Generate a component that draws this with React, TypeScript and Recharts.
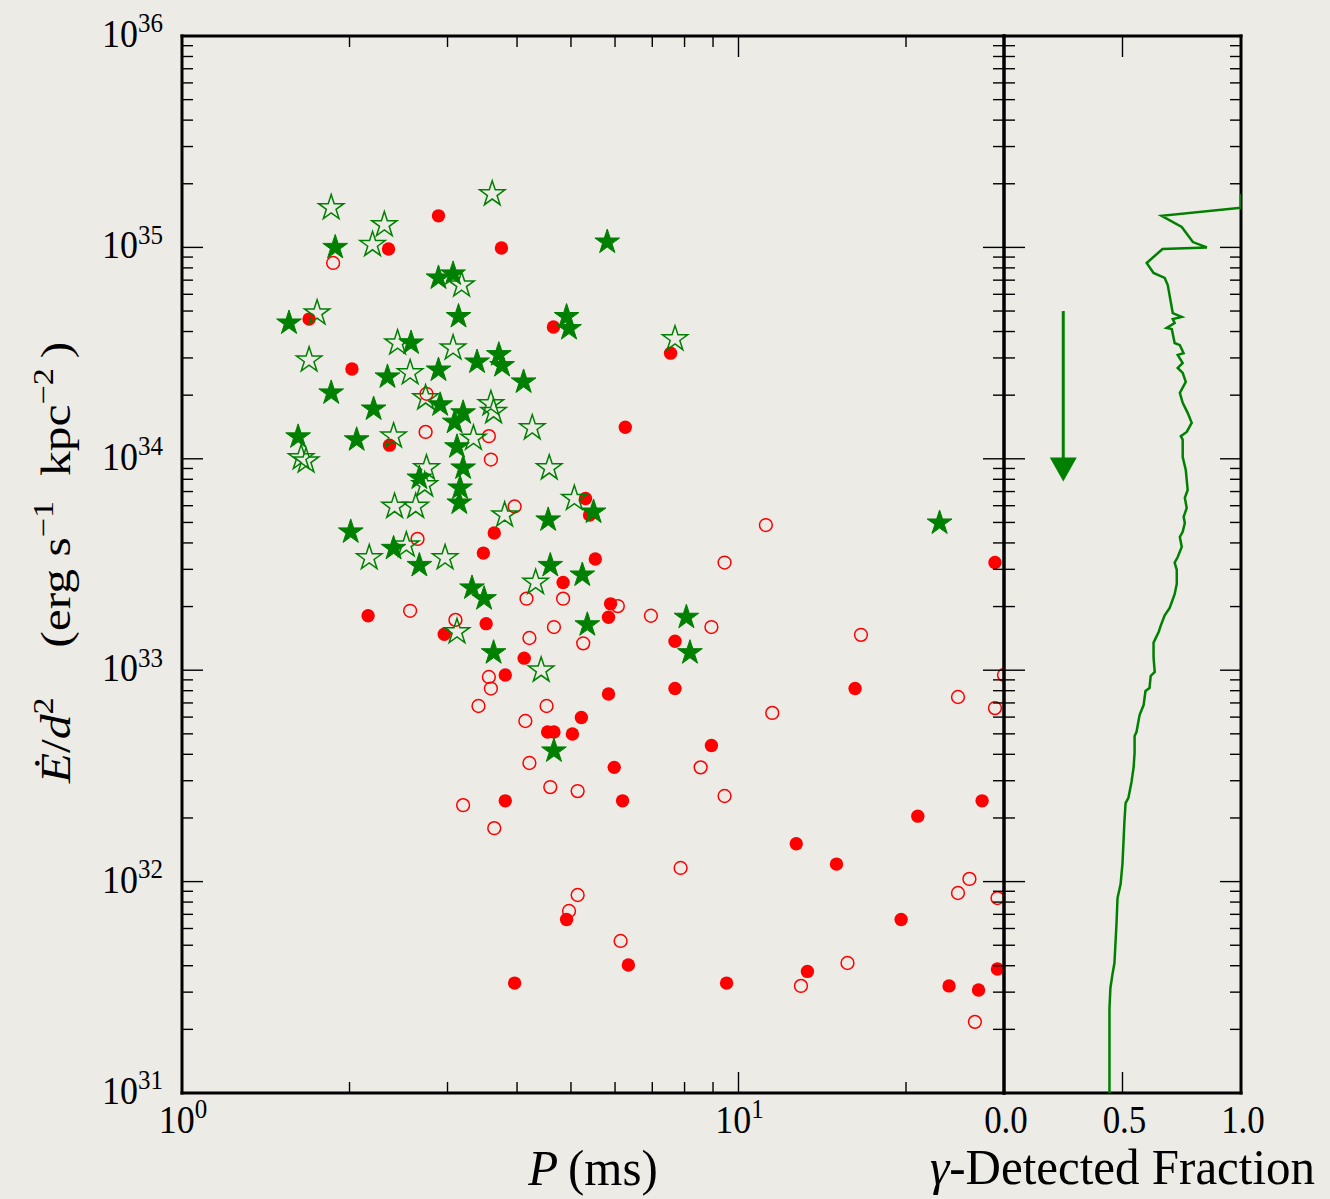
import React from 'react';
import { ScatterChart, Scatter, XAxis, YAxis } from 'recharts';

const GREEN = '#008000';
const RED = '#ff0000';
const INK = '#000000';
const PAPER = '#ecebe6';
const FONT = "'Liberation Serif', 'Times New Roman', serif";

// [P (ms), Edot/d^2 (erg s^-1 kpc^-2)]
const greenFilled: [number, number][] = [
  [1.885, 1.0e35], [5.81, 1.06e35], [2.89, 7.17e34], [3.07, 7.49e34], [3.14, 4.71e34],
  [1.557, 4.39e34], [4.91, 4.71e34], [4.96, 4.13e34], [2.58, 3.53e34], [3.39, 2.87e34],
  [3.71, 3.11e34], [3.76, 2.76e34], [2.89, 2.63e34], [2.34, 2.44e34], [4.11, 2.31e34],
  [1.854, 2.05e34], [2.21, 1.72e34], [2.91, 1.8e34], [3.2, 1.65e34], [3.09, 1.49e34],
  [1.617, 1.27e34], [2.06, 1.23e34], [3.12, 1.14e34], [3.2, 9.05e33], [2.67, 8.11e33],
  [3.16, 7.28e33], [3.15, 6.18e33], [5.49, 5.6e33], [4.55, 5.14e33], [2.01, 4.51e33],
  [2.4, 3.77e33], [2.67, 3.13e33], [4.59, 3.13e33], [5.24, 2.82e33], [3.32, 2.45e33],
  [3.49, 2.18e33], [5.35, 1.64e33], [8.06, 1.78e33], [8.18, 1.21e33], [3.63, 1.21e33],
  [4.66, 4.15e32], [22.98, 4.97e33],
];

const greenOpen: [number, number][] = [
  [3.61, 1.79e35], [1.854, 1.54e35], [2.31, 1.28e35], [2.2, 1.03e35], [3.18, 6.64e34],
  [1.749, 4.89e34], [7.69, 3.69e34], [2.44, 3.53e34], [3.07, 3.34e34], [1.692, 2.93e34],
  [2.57, 2.55e34], [2.74, 1.94e34], [3.59, 1.82e34], [3.63, 1.67e34], [4.26, 1.4e34],
  [2.4, 1.28e34], [3.34, 1.25e34], [1.637, 1.01e34], [1.671, 9.76e33], [4.57, 9.05e33],
  [2.75, 9.05e33], [2.73, 7.52e33], [2.41, 5.95e33], [2.63, 5.95e33], [5.07, 6.49e33],
  [3.8, 5.42e33], [2.53, 3.91e33], [2.17, 3.4e33], [2.97, 3.4e33], [4.32, 2.6e33],
  [3.12, 1.52e33], [4.42, 1.0e33],
];

const redFilled: [number, number][] = [
  [2.89, 1.41e35], [2.35, 9.83e34], [3.75, 9.94e34], [1.692, 4.58e34], [4.65, 4.2e34],
  [7.55, 3.16e34], [2.02, 2.66e34], [6.26, 1.41e34], [2.36, 1.16e34], [5.31, 6.49e33],
  [5.4, 5.42e33], [3.64, 4.46e33], [3.48, 3.58e33], [5.53, 3.36e33], [4.84, 2.6e33],
  [2.16, 1.81e33], [5.89, 2.06e33], [5.84, 1.78e33], [3.52, 1.66e33], [2.96, 1.48e33],
  [7.69, 1.37e33], [4.12, 1.14e33], [3.81, 9.49e32], [7.69, 8.19e32], [5.84, 7.72e32],
  [16.2, 8.19e32], [28.9, 3.23e33], [5.22, 5.97e32], [4.54, 5.1e32], [4.66, 5.1e32],
  [5.03, 4.99e32], [8.94, 4.4e32], [5.98, 3.47e32], [3.81, 2.41e32], [6.19, 2.41e32],
  [27.4, 2.41e32], [21.0, 2.04e32], [12.7, 1.51e32], [15.0, 1.21e32], [19.6, 6.62e31],
  [4.91, 6.62e31], [6.34, 4.03e31], [13.3, 3.76e31], [3.96, 3.31e31], [9.52, 3.31e31],
  [23.9, 3.21e31], [27.0, 3.07e31], [29.2, 3.86e31],
];

const redOpen: [number, number][] = [
  [1.869, 8.44e34], [2.75, 2.03e34], [2.74, 1.34e34], [3.56, 1.28e34], [3.59, 9.92e33],
  [3.96, 5.95e33], [2.65, 4.18e33], [2.57, 1.91e33], [3.1, 1.73e33], [4.16, 2.18e33],
  [4.84, 2.18e33], [6.07, 2.01e33], [6.96, 1.81e33], [8.94, 1.6e33], [5.26, 1.34e33],
  [4.66, 1.6e33], [4.21, 1.42e33], [11.2, 4.86e33], [9.44, 3.23e33], [16.6, 1.47e33],
  [30.0, 9.49e32], [24.8, 7.47e32], [28.9, 6.62e32], [11.5, 6.28e32], [3.56, 9.29e32],
  [3.59, 8.19e32], [3.41, 6.77e32], [4.52, 6.77e32], [4.14, 5.75e32], [4.21, 3.64e32],
  [8.55, 3.47e32], [4.59, 2.8e32], [5.14, 2.68e32], [9.44, 2.54e32], [3.2, 2.3e32],
  [3.64, 1.79e32], [7.87, 1.16e32], [26.0, 1.03e32], [24.8, 8.83e31], [29.2, 8.36e31],
  [5.14, 8.64e31], [4.96, 7.26e31], [6.14, 5.24e31], [15.7, 4.12e31], [12.95, 3.21e31],
  [26.6, 2.17e31],
];

// [gamma-detected fraction, Edot/d^2]
const fractionCurve: [number, number][] = [
  [1.0, 1.79e35], [1.0, 1.54e35], [0.665, 1.41e35], [0.75, 1.25e35], [0.797, 1.06e35],
  [0.856, 1.0e35], [0.669, 9.83e34], [0.602, 8.44e34], [0.631, 7.57e34], [0.678, 7.17e34],
  [0.691, 6.64e34], [0.712, 4.89e34], [0.75, 4.69e34], [0.712, 4.58e34], [0.72, 4.39e34],
  [0.686, 4.16e34], [0.708, 4.11e34], [0.72, 3.53e34], [0.742, 3.45e34], [0.758, 3.16e34],
  [0.733, 3.1e34], [0.754, 2.84e34], [0.733, 2.69e34], [0.754, 2.55e34], [0.767, 2.31e34],
  [0.742, 2.05e34], [0.754, 1.84e34], [0.775, 1.65e34], [0.792, 1.48e34], [0.771, 1.34e34],
  [0.746, 1.28e34], [0.754, 1.23e34], [0.754, 1.02e34], [0.767, 8.85e33], [0.775, 7.12e33],
  [0.763, 6.53e33], [0.771, 5.85e33], [0.758, 5.31e33], [0.763, 4.97e33], [0.754, 4.51e33],
  [0.742, 4.27e33], [0.75, 3.83e33], [0.733, 3.43e33], [0.72, 3.23e33], [0.729, 2.98e33],
  [0.729, 2.56e33], [0.72, 2.29e33], [0.699, 1.97e33], [0.678, 1.82e33], [0.661, 1.62e33],
  [0.653, 1.52e33], [0.631, 1.35e33], [0.631, 1.15e33], [0.636, 9.81e32], [0.619, 9.39e32],
  [0.614, 8.24e32], [0.597, 7.97e32], [0.589, 6.84e32], [0.572, 6.14e32], [0.559, 5.1e32],
  [0.551, 4.88e32], [0.551, 4.06e32], [0.547, 3.48e32], [0.538, 2.96e32], [0.525, 2.49e32],
  [0.513, 2.35e32], [0.508, 1.91e32], [0.5, 1.22e32], [0.492, 9.74e31], [0.479, 8.36e31],
  [0.475, 6.44e31], [0.466, 4.12e31], [0.458, 3.66e31], [0.449, 3.14e31], [0.445, 2.52e31],
  [0.445, 1.0e31],
];

const arrowShaft: [number, number][] = [[0.25, 5.0e34], [0.25, 1.0e34]];
const arrowTip: [number, number][] = [[0.25, 7.8e33]];

// ticks
const periodTicks = [1, 2, 3, 4, 5, 6, 7, 8, 9, 10, 20, 30];
const periodMajor = [1, 10];
const edotMajor = [1e31, 1e32, 1e33, 1e34, 1e35, 1e36];
const edotMinorMantissa = [2, 3, 4, 5, 6, 7, 8, 9];
const fracTicks = [0, 0.5, 1];
const fracLabels = ['0.0', '0.5', '1.0'];

const edotTicks = edotMajor
  .slice(0, -1)
  .flatMap((d) => [d, ...edotMinorMantissa.map((m) => m * d)])
  .concat([edotMajor[edotMajor.length - 1]]);

const asPeriod = (rows: [number, number][]) => rows.map(([p, e]) => ({ p, e }));
const asFraction = (rows: [number, number][]) => rows.map(([f, e]) => ({ f, e }));

const isDecade = (v: number) => edotMajor.some((d) => Math.abs(v / d - 1) < 1e-6);
const spine = { stroke: INK, strokeWidth: 3, strokeLinecap: 'square' as const };

const PowerOfTen = ({ x, y, exp, anchor }: { x: number; y: number; exp: number; anchor: 'end' | 'middle' }) => (
  <text
    transform={`translate(${x},${y}) scale(1,1.12)`}
    textAnchor={anchor}
    fontFamily={FONT}
    fontSize={36}
    fill={INK}
  >
    10<tspan dy={-13} fontSize={25}>{exp}</tspan>
  </text>
);

// tick renderers: ticks point into the plot, labels sit outside
const edotTick = (side: 'left' | 'right', withLabel: boolean) => (props: any) => {
  const { x, y, payload } = props;
  const major = isDecade(payload.value);
  const len = major ? 21 : 11;
  const dir = side === 'left' ? 1 : -1;
  return (
    <g>
      <line x1={x} y1={y} x2={x + dir * len} y2={y} stroke={INK} strokeWidth={1.4} />
      {withLabel && major && (
        <PowerOfTen x={x - 19} y={y + 11} exp={Math.round(Math.log10(payload.value))} anchor="end" />
      )}
    </g>
  );
};

const periodTick = (side: 'bottom' | 'top') => (props: any) => {
  const { x, y, payload } = props;
  const major = periodMajor.includes(payload.value);
  const len = major ? 21 : 11;
  const dir = side === 'bottom' ? -1 : 1;
  return (
    <g>
      <line x1={x} y1={y} x2={x} y2={y + dir * len} stroke={INK} strokeWidth={1.4} />
      {side === 'bottom' && major && (
        <PowerOfTen x={x + 1} y={y + 40} exp={Math.round(Math.log10(payload.value))} anchor="middle" />
      )}
    </g>
  );
};

const fracTick = (side: 'bottom' | 'top') => (props: any) => {
  const { x, y, payload, index } = props;
  const inner = payload.value > 0 && payload.value < 1;
  const dir = side === 'bottom' ? -1 : 1;
  return (
    <g>
      {inner && <line x1={x} y1={y} x2={x} y2={y + dir * 21} stroke={INK} strokeWidth={1.4} />}
      {side === 'bottom' && (
        <text
          transform={`translate(${x + 2},${y + 40}) scale(1,1.12)`}
          textAnchor="middle"
          fontFamily={FONT}
          fontSize={35}
          fill={INK}
        >
          {fracLabels[index] ?? payload.value.toFixed(1)}
        </text>
      )}
    </g>
  );
};

const periodTitle = (props: any) => {
  const vb = props.viewBox ?? {};
  const cx = (vb.x ?? 182) + (vb.width ?? 822) / 2;
  const y = (vb.y ?? 1093) + 92;
  return (
    <text transform={`translate(${cx},${y}) scale(1,1.05)`} textAnchor="middle" fontFamily={FONT} fontSize={49} fill={INK}>
      <tspan fontStyle="italic">P</tspan>
      <tspan>{'\u2009(ms)'}</tspan>
    </text>
  );
};

const fractionTitle = (props: any) => {
  const vb = props.viewBox ?? {};
  const cx = (vb.x ?? 1004) + (vb.width ?? 237) / 2;
  const y = (vb.y ?? 1093) + 91;
  return (
    <text transform={`translate(${cx},${y}) scale(1,1.05)`} textAnchor="middle" fontFamily={FONT} fontSize={49} fill={INK}>
      <tspan fontStyle="italic">γ</tspan>
      <tspan>-Detected Fraction</tspan>
    </text>
  );
};

const edotTitle = (props: any) => {
  const vb = props.viewBox ?? {};
  const cy = (vb.y ?? 36) + (vb.height ?? 1057) / 2 - 2;
  return (
    <text transform={`translate(70,${cy}) rotate(-90) scale(1.18,1)`} textAnchor="middle" fontFamily={FONT} fontSize={42} fill={INK}>
      <tspan fontStyle="italic">Ė</tspan>
      <tspan>/</tspan>
      <tspan fontStyle="italic">d</tspan>
      <tspan dy={-17} fontSize={29}>2</tspan>
      <tspan dy={17}>{'\u2003(erg s'}</tspan>
      <tspan dy={-17} fontSize={29}>{'\u22121'}</tspan>
      <tspan dy={17}>{'\u2002kpc'}</tspan>
      <tspan dy={-17} fontSize={29}>{'\u22122'}</tspan>
      <tspan dy={17}>{'\u2009)'}</tspan>
    </text>
  );
};

const starPoints = (cx: number, cy: number, R: number) => {
  const r = R * 0.382;
  const pts: string[] = [];
  for (let i = 0; i < 10; i++) {
    const a = ((-90 + i * 36) * Math.PI) / 180;
    const rad = i % 2 === 0 ? R : r;
    pts.push(`${(cx + rad * Math.cos(a)).toFixed(2)},${(cy + rad * Math.sin(a)).toFixed(2)}`);
  }
  return pts.join(' ');
};

const FilledStar = (p: any) => <polygon points={starPoints(p.cx, p.cy, 13)} fill={GREEN} stroke={GREEN} strokeWidth={1} />;
const OpenStar = (p: any) => (
  <polygon points={starPoints(p.cx, p.cy, 13.3)} fill="none" stroke={GREEN} strokeWidth={1.5} />
);
const FilledDot = (p: any) => <circle cx={p.cx} cy={p.cy} r={6.7} fill={RED} />;
const OpenDot = (p: any) => <circle cx={p.cx} cy={p.cy} r={6.4} fill="none" stroke={RED} strokeWidth={1.5} />;
const NoMarker = () => <g />;
const ArrowHead = (p: any) => (
  <polygon points={`${p.cx - 13.5},${p.cy - 24} ${p.cx + 13.5},${p.cy - 24} ${p.cx},${p.cy}`} fill={GREEN} />
);

const edotAxisProps = {
  dataKey: 'e',
  type: 'number' as const,
  scale: 'log' as const,
  domain: [1e31, 1e36],
  allowDataOverflow: true,
  ticks: edotTicks,
  interval: 0,
  tickSize: 0,
  tickMargin: 0,
  tickLine: false,
  axisLine: spine,
};

const MainPanel = () => (
  <ScatterChart width={1010} height={1199} margin={{ top: 35, right: 5, bottom: 46, left: 102 }}>
    <XAxis
      xAxisId="bottom"
      dataKey="p"
      type="number"
      scale="log"
      domain={[1, 30]}
      allowDataOverflow
      ticks={periodTicks}
      interval={0}
      tickSize={0}
      tickMargin={0}
      tickLine={false}
      axisLine={spine}
      tick={periodTick('bottom')}
      height={60}
      label={periodTitle}
    />
    <XAxis
      xAxisId="top"
      orientation="top"
      dataKey="p"
      type="number"
      scale="log"
      domain={[1, 30]}
      allowDataOverflow
      ticks={periodTicks}
      interval={0}
      tickSize={0}
      tickMargin={0}
      tickLine={false}
      axisLine={spine}
      tick={periodTick('top')}
      height={1}
    />
    <YAxis yAxisId="left" {...edotAxisProps} width={80} tick={edotTick('left', true)} label={edotTitle} />
    <YAxis yAxisId="right" orientation="right" {...edotAxisProps} width={1} tick={edotTick('right', false)} />
    <Scatter xAxisId="bottom" yAxisId="left" data={asPeriod(redOpen)} shape={OpenDot} isAnimationActive={false} />
    <Scatter xAxisId="bottom" yAxisId="left" data={asPeriod(redFilled)} shape={FilledDot} isAnimationActive={false} />
    <Scatter xAxisId="bottom" yAxisId="left" data={asPeriod(greenOpen)} shape={OpenStar} isAnimationActive={false} />
    <Scatter xAxisId="bottom" yAxisId="left" data={asPeriod(greenFilled)} shape={FilledStar} isAnimationActive={false} />
  </ScatterChart>
);

const FractionPanel = () => (
  <ScatterChart width={430} height={1199} margin={{ top: 35, right: 88, bottom: 46, left: 103 }}>
    <XAxis
      xAxisId="bottom"
      dataKey="f"
      type="number"
      domain={[0, 1]}
      allowDataOverflow
      ticks={fracTicks}
      interval={0}
      tickSize={0}
      tickMargin={0}
      tickLine={false}
      axisLine={spine}
      tick={fracTick('bottom')}
      height={60}
      label={fractionTitle}
    />
    <XAxis
      xAxisId="top"
      orientation="top"
      dataKey="f"
      type="number"
      domain={[0, 1]}
      allowDataOverflow
      ticks={fracTicks}
      interval={0}
      tickSize={0}
      tickMargin={0}
      tickLine={false}
      axisLine={spine}
      tick={fracTick('top')}
      height={1}
    />
    <YAxis yAxisId="left" {...edotAxisProps} width={1} tick={edotTick('left', false)} />
    <YAxis yAxisId="right" orientation="right" {...edotAxisProps} width={1} tick={edotTick('right', false)} />
    <Scatter
      xAxisId="bottom"
      yAxisId="left"
      data={asFraction(fractionCurve)}
      fill={GREEN}
      line={{ stroke: GREEN, strokeWidth: 2.5 }}
      lineType="joint"
      shape={NoMarker}
      isAnimationActive={false}
    />
    <Scatter
      xAxisId="bottom"
      yAxisId="left"
      data={asFraction(arrowShaft)}
      fill={GREEN}
      line={{ stroke: GREEN, strokeWidth: 3 }}
      lineType="joint"
      shape={NoMarker}
      isAnimationActive={false}
    />
    <Scatter xAxisId="bottom" yAxisId="left" data={asFraction(arrowTip)} shape={ArrowHead} isAnimationActive={false} />
  </ScatterChart>
);

export default function App() {
  return (
    <div style={{ position: 'fixed', left: 0, top: 0, width: 1330, height: 1199, background: PAPER, overflow: 'hidden' }}>
      <div style={{ position: 'absolute', left: 0, top: 0 }}>
        <MainPanel />
      </div>
      <div style={{ position: 'absolute', left: 900, top: 0 }}>
        <FractionPanel />
      </div>
    </div>
  );
}
